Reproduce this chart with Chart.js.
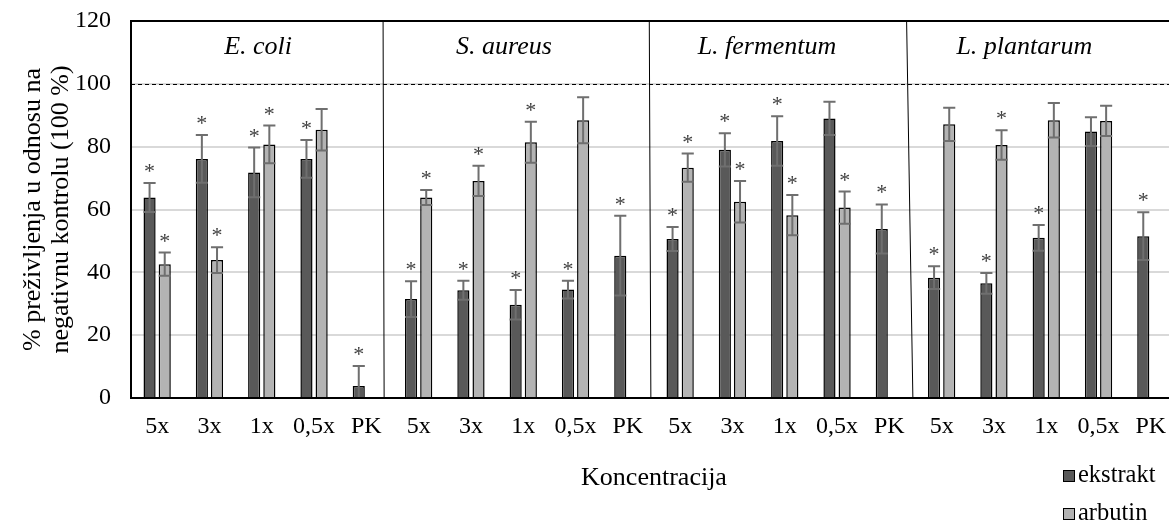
<!DOCTYPE html>
<html>
<head>
<meta charset="utf-8">
<script src="https://cdn.jsdelivr.net/npm/chart.js@4"></script>
<style>
  body { margin: 0; overflow: hidden; background: #fff; }
</style>
</head>
<body>
<canvas id="prezivljenjeChart" width="1185" height="522"></canvas>
<script>
    // Podaci
    const groups = ['E. coli', 'S. aureus', 'L. fermentum', 'L. plantarum'];
    const concentrations = ['5x', '3x', '1x', '0,5x', 'PK'];
    const yTicks = [0, 20, 40, 60, 80, 100, 120];

    const ekstrakt = [63.8, 76.1, 71.8, 76.1, 3.8, 31.5, 34.3, 29.7, 34.5, 45.3, 50.6, 79.0, 81.8, 89.0, 53.8, 38.3, 36.5, 51.0, 84.8, 51.5];
    const ekstraktErr = [4.6, 7.6, 7.9, 6.0, 6.4, 5.7, 3.0, 4.7, 2.8, 12.7, 3.8, 5.3, 7.9, 5.3, 7.8, 3.6, 3.3, 4.1, 4.6, 7.6];
    const ekstraktSig = [1, 1, 1, 1, 1, 1, 1, 1, 1, 1, 1, 1, 1, 0, 1, 1, 1, 1, 0, 1];

    const arbutin = [42.6, 43.9, 80.7, 85.4, null, 63.8, 69.1, 81.4, 88.4, null, 73.3, 62.5, 58.2, 60.6, null, 87.1, 80.5, 88.4, 88.2, null];
    const arbutinErr = [3.7, 4.1, 6.0, 6.6, null, 2.4, 4.8, 6.5, 7.3, null, 4.5, 6.6, 6.4, 5.1, null, 5.3, 4.7, 5.5, 4.8, null];
    const arbutinSig = [1, 1, 1, 0, 0, 1, 1, 1, 0, 0, 1, 1, 1, 1, 0, 0, 1, 0, 0, 0];

    const labels = groups.flatMap(() => concentrations);
    const FONT = "'Liberation Serif', 'Times New Roman', serif";

    // Gre코ke, zvjezdice, okvir, legenda
    const extrasPlugin = {
        id: 'extras',
        afterDatasetsDraw(chart) {
            const ctx = chart.ctx;
            const y = chart.scales.y;
            const area = chart.chartArea;
            const errs = [ekstraktErr, arbutinErr];
            const sigs = [ekstraktSig, arbutinSig];
            chart.data.datasets.forEach((ds, d) => {
                chart.getDatasetMeta(d).data.forEach((bar, i) => {
                    const v = ds.data[i];
                    if (v === null) return;
                    const e = errs[d][i];
                    const yt = y.getPixelForValue(v + e);
                    const yb = y.getPixelForValue(v - e);
                    const half = bar.width / 2;
                    ctx.save();
                    ctx.beginPath();
                    ctx.rect(area.left, area.top, area.right - area.left, area.bottom - area.top - 1);
                    ctx.clip();
                    ctx.strokeStyle = '#6f6f6f';
                    ctx.lineWidth = 2;
                    ctx.beginPath();
                    ctx.moveTo(bar.x, yt); ctx.lineTo(bar.x, yb);
                    ctx.moveTo(bar.x - half, yt); ctx.lineTo(bar.x + half, yt);
                    ctx.moveTo(bar.x - half, yb); ctx.lineTo(bar.x + half, yb);
                    ctx.stroke();
                    ctx.restore();
                    if (sigs[d][i]) {
                        ctx.save();
                        ctx.fillStyle = '#404040';
                        ctx.font = '22px ' + FONT;
                        ctx.textAlign = 'center';
                        ctx.textBaseline = 'alphabetic';
                        ctx.fillText('*', bar.x, yt - 5);
                        ctx.restore();
                    }
                });
            });
        },
        afterDraw(chart) {
            const ctx = chart.ctx;
            const x = chart.scales.x;
            const y = chart.scales.y;
            const area = chart.chartArea;
            ctx.save();
            // gornji rub
            ctx.strokeStyle = '#000';
            ctx.lineWidth = 2;
            ctx.beginPath();
            ctx.moveTo(area.left, area.top); ctx.lineTo(area.right, area.top);
            ctx.stroke();
            // 100 %
            ctx.lineWidth = 1;
            ctx.setLineDash([4, 3]);
            const y100 = Math.round(y.getPixelForValue(100)) + 0.5;
            ctx.beginPath();
            ctx.moveTo(area.left, y100); ctx.lineTo(area.right, y100);
            ctx.stroke();
            ctx.setLineDash([]);
            // razdjelnici
            [[4.32, 4.34], [9.41, 9.44], [14.33, 14.45]].forEach(([t, b]) => {
                ctx.beginPath();
                ctx.moveTo(x.getPixelForValue(t), area.top);
                ctx.lineTo(x.getPixelForValue(b), area.bottom);
                ctx.stroke();
            });
            // nazivi bakterija
            ctx.fillStyle = '#000';
            ctx.font = 'italic 26px ' + FONT;
            ctx.textAlign = 'center';
            ctx.textBaseline = 'middle';
            [1.93, 6.63, 11.66, 16.58].forEach((p, g) => {
                ctx.fillText(groups[g], x.getPixelForValue(p), 47);
            });
            // legenda
            ctx.font = '24.5px ' + FONT;
            ctx.textAlign = 'left';
            chart.data.datasets.forEach((ds, d) => {
                const ly = 476 + d * 38;
                ctx.fillStyle = ds.backgroundColor;
                ctx.fillRect(1063, ly - 6, 12, 12);
                ctx.strokeStyle = '#000';
                ctx.lineWidth = 1;
                ctx.strokeRect(1063.5, ly - 5.5, 11, 11);
                ctx.fillStyle = '#000';
                ctx.fillText(ds.label, 1078, ly);
            });
            ctx.restore();
        }
    };

    const ctxPrez = document.getElementById('prezivljenjeChart').getContext('2d');
    new Chart(ctxPrez, {
        type: 'bar',
        data: {
            labels: labels,
            datasets: [{
                label: 'ekstrakt',
                data: ekstrakt,
                backgroundColor: '#595959',
                borderColor: '#000',
                borderWidth: 1.5,
                categoryPercentage: 0.58,
                barPercentage: 0.8
            }, {
                label: 'arbutin',
                data: arbutin,
                backgroundColor: '#b3b3b3',
                borderColor: '#000',
                borderWidth: 1.5,
                categoryPercentage: 0.58,
                barPercentage: 0.8
            }]
        },
        options: {
            responsive: false,
            animation: false,
            layout: { padding: { top: 21, right: 8, left: 0, bottom: 0 } },
            plugins: {
                legend: { display: false },
                tooltip: { enabled: false }
            },
            scales: {
                x: {
                    afterFit: s => { s.height = 124; s.paddingLeft = 0; s.paddingRight = 0; },
                    grid: { display: false, drawTicks: false },
                    border: { color: '#000', width: 2 },
                    ticks: { color: '#000', font: { family: FONT, size: 24 }, padding: 14, maxRotation: 0, autoSkip: false },
                    title: {
                        display: true,
                        text: 'Koncentracija',
                        color: '#000',
                        font: { family: FONT, size: 26 },
                        padding: { bottom: 28 }
                    }
                },
                y: {
                    min: 0,
                    max: 120,
                    afterFit: s => { s.width = 131; s.paddingTop = 0; s.paddingBottom = 0; },
                    afterBuildTicks: s => { s.ticks = yTicks.map(v => ({ value: v })); },
                    grid: {
                        drawTicks: false,
                        color: c => (c.tick.value === 120 || c.tick.value === 0) ? 'rgba(0,0,0,0)' : '#d9d9d9',
                        lineWidth: 2
                    },
                    border: { color: '#000', width: 2 },
                    ticks: { color: '#000', font: { family: FONT, size: 24 }, padding: 20 },
                    title: {
                        display: true,
                        text: ['% preživljenja u odnosu na', 'negativnu kontrolu (100 %)'],
                        color: '#000',
                        font: { family: FONT, size: 26, lineHeight: 1.08 },
                        padding: { top: 19 }
                    }
                }
            }
        },
        plugins: [extrasPlugin]
    });
</script>
</body>
</html>
